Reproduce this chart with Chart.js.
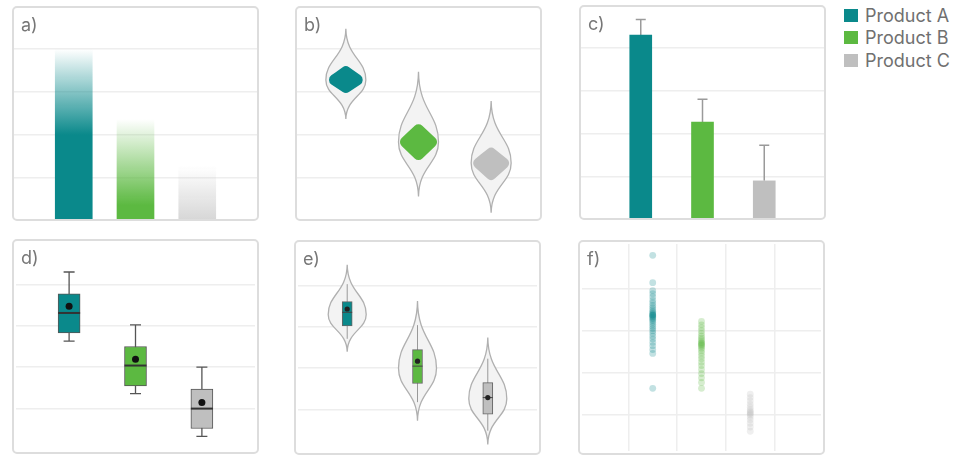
<!DOCTYPE html>
<html>
<head>
<meta charset="utf-8">
<script src="https://cdn.jsdelivr.net/npm/chart.js@4"></script>
<style>
  body { margin: 0; background: #fff; font-family: Inter, "Noto Sans", sans-serif; }
  .panel { position: absolute; width: 247px; height: 215px; }
  .panel canvas { position: absolute; left: 0; top: 0; }
  .panel .frame { position: absolute; inset: 0; border: 2px solid #dddddd; border-radius: 5px; pointer-events: none; }
  .panel .tag { position: absolute; left: 9px; top: 10px; font-size: 18px; line-height: 18px; color: #777; }
  #legend { position: absolute; left: 844px; top: 4px; }
  #legend .item { height: 22.5px; display: flex; align-items: center; font-size: 18px; color: #707070; }
  #legend .swatch { width: 14px; height: 13px; margin-right: 7px; }
</style>
</head>
<body>
<div class="panel" style="left:12px;top:6px"><canvas id="pa" width="247" height="215"></canvas><div class="frame"></div><span class="tag">a)</span></div>
<div class="panel" style="left:295px;top:6px"><canvas id="pb" width="247" height="215"></canvas><div class="frame"></div><span class="tag">b)</span></div>
<div class="panel" style="left:579px;top:5px"><canvas id="pc" width="247" height="215"></canvas><div class="frame"></div><span class="tag">c)</span></div>
<div class="panel" style="left:12px;top:239px"><canvas id="pd" width="247" height="215"></canvas><div class="frame"></div><span class="tag">d)</span></div>
<div class="panel" style="left:294px;top:240px"><canvas id="pe" width="247" height="215"></canvas><div class="frame"></div><span class="tag">e)</span></div>
<div class="panel" style="left:578px;top:240px"><canvas id="pf" width="247" height="215"></canvas><div class="frame"></div><span class="tag">f)</span></div>
<div id="legend"></div>

<script>
const products = ["Product A", "Product B", "Product C"];
const colors = ["#0a898b", "#5cb941", "#bfbfbf"];
const xPos = [0, 1, 2];
const gridValues = [1, 2, 3, 4];

// a) bar heights
const barTotals = [4.0, 2.37, 1.28];

// b) violins with coloured core
const violinTopB = [4.47, 3.47, 2.79];
const violinPeakB = [3.28, 1.84, 1.35];
const violinBottomB = [2.37, 0.57, 0.19];
const coreTopB = [3.63, 2.30, 1.74];
const coreBottomB = [2.95, 1.37, 0.91];

// c) means with error
const means = [4.3, 2.28, 0.91];
const errors = [0.36, 0.53, 0.83];

// d) box plots
const whiskerLowD = [2.63, 1.36, 0.33];
const q1D = [2.83, 1.55, 0.52];
const medianD = [3.31, 2.04, 1.0];
const q3D = [3.77, 2.5, 1.47];
const whiskerHighD = [4.3, 3.02, 2.0];
const meanD = [3.47, 2.19, 1.15];

// e) violin + box
const violinTopE = [4.5, 3.62, 2.74];
const violinPeakE = [3.3, 2.0, 1.26];
const violinBottomE = [2.4, 0.73, 0.16];
const whiskerLowE = [2.71, 1.18, 0.49];
const q1E = [3.02, 1.63, 0.89];
const medianE = [3.35, 2.05, 1.29];
const q3E = [3.61, 2.45, 1.65];
const whiskerHighE = [4.03, 3.04, 2.23];
const meanE = [3.43, 2.17, 1.29];

// f) raw observations
const xPosF = [1.5, 2.5, 3.5];
const obsA = [4.79, 4.14, 3.95, 3.88, 3.8, 3.72, 3.66, 3.6, 3.55, 3.5, 3.46, 3.43, 3.4, 3.38, 3.37, 3.36,
  3.34, 3.32, 3.3, 3.27, 3.24, 3.2, 3.15, 3.1, 3.05, 3.0, 2.94, 2.87, 2.8, 2.72, 2.64, 2.55, 2.46, 1.63];
const obsB = [3.22, 3.14, 3.07, 3.0, 2.93, 2.87, 2.82, 2.78, 2.74, 2.71, 2.69, 2.67, 2.65, 2.62, 2.58,
  2.53, 2.47, 2.4, 2.33, 2.25, 2.17, 2.08, 1.98, 1.88, 1.77, 1.63];
const obsC = [1.49, 1.41, 1.33, 1.25, 1.18, 1.12, 1.08, 1.05, 1.03, 1.0, 0.95, 0.88, 0.8, 0.71, 0.61];

function rgba(hex, a) {
  const n = parseInt(hex.slice(1), 16);
  return `rgba(${n >> 16},${(n >> 8) & 255},${n & 255},${a})`;
}

// legend
const legend = document.getElementById("legend");
products.forEach((p, i) => {
  legend.innerHTML += `<div class="item"><span class="swatch" style="background:${colors[i]}"></span>${p}</div>`;
});

function axis(min, max, showGrid, isX) {
  return {
    type: "linear", min: min, max: max, offset: false,
    ticks: { display: false },
    border: { display: false },
    grid: { display: showGrid, color: "#eeeeee", lineWidth: 1.5, drawTicks: false },
    afterBuildTicks: s => { s.ticks = gridValues.map(v => ({ value: v })); },
    afterFit: s => { if (isX) s.height = 0; else s.width = 0; }
  };
}

function baseOptions(xMin, xMax, yMin, yMax, xGrid) {
  return {
    responsive: false,
    animation: false,
    events: [],
    layout: { padding: 0 },
    plugins: { legend: { display: false }, tooltip: { enabled: false } },
    scales: { x: axis(xMin, xMax, xGrid, true), y: axis(yMin, yMax, true, false) }
  };
}

// long thin tails, round body
function violinPath(ctx, cx, yTop, yPeak, yBot, hw) {
  const up = yPeak - yTop, dn = yBot - yPeak;
  ctx.beginPath();
  ctx.moveTo(cx, yTop);
  ctx.bezierCurveTo(cx + 0.5, yTop + up * 0.55, cx + hw, yPeak - up * 0.4, cx + hw, yPeak);
  ctx.bezierCurveTo(cx + hw, yPeak + dn * 0.4, cx + 0.5, yBot - dn * 0.55, cx, yBot);
  ctx.bezierCurveTo(cx - 0.5, yBot - dn * 0.55, cx - hw, yPeak + dn * 0.4, cx - hw, yPeak);
  ctx.bezierCurveTo(cx - hw, yPeak - up * 0.4, cx - 0.5, yTop + up * 0.55, cx, yTop);
  ctx.closePath();
}

function drawViolin(ctx, cx, yTop, yPeak, yBot, hw) {
  violinPath(ctx, cx, yTop, yPeak, yBot, hw);
  ctx.fillStyle = "#f3f3f3";
  ctx.fill();
  ctx.strokeStyle = "#b0b0b0";
  ctx.lineWidth = 1.3;
  ctx.stroke();
}

function diamondPath(ctx, cx, yTop, yMid, yBot, hw, r) {
  const pts = [[cx, yTop], [cx + hw, yMid], [cx, yBot], [cx - hw, yMid]];
  ctx.beginPath();
  ctx.moveTo((pts[3][0] + pts[0][0]) / 2, (pts[3][1] + pts[0][1]) / 2);
  for (let i = 0; i < 4; i++) {
    const p = pts[i], n = pts[(i + 1) % 4];
    ctx.arcTo(p[0], p[1], n[0], n[1], r);
  }
  ctx.closePath();
}

// a) fading bars
new Chart(document.getElementById("pa"), {
  type: "bar",
  data: {
    datasets: [{
      data: xPos.map((x, i) => ({ x: x, y: barTotals[i] })),
      barThickness: 37,
      backgroundColor: c => {
        const { ctx, scales } = c.chart;
        const i = c.dataIndex;
        if (!scales.y || i === undefined) return colors[0];
        const top = scales.y.getPixelForValue(barTotals[i]);
        const solid = scales.y.getPixelForValue(barTotals[i] - 2);
        if (!isFinite(top) || !isFinite(solid) || top === solid) return colors[i];
        const g = ctx.createLinearGradient(0, top, 0, solid);
        g.addColorStop(0, rgba(colors[i], 0));
        g.addColorStop(1, rgba(colors[i], 1));
        return g;
      }
    }]
  },
  options: baseOptions(-1, 3, 0, 5, false)
});

// b) violins with coloured core
new Chart(document.getElementById("pb"), {
  type: "scatter",
  data: { datasets: [{ data: [] }] },
  options: baseOptions(-0.7, 2.7, 0, 5, false),
  plugins: [{
    id: "violinsB",
    afterDatasetsDraw(chart) {
      const { ctx, scales: { x, y } } = chart;
      ctx.save();
      xPos.forEach((v, i) => {
        const cx = x.getPixelForValue(v);
        drawViolin(ctx, cx, y.getPixelForValue(violinTopB[i]), y.getPixelForValue(violinPeakB[i]),
          y.getPixelForValue(violinBottomB[i]), 20);
        diamondPath(ctx, cx, y.getPixelForValue(coreTopB[i]), y.getPixelForValue(violinPeakB[i]),
          y.getPixelForValue(coreBottomB[i]), 21, 5.5);
        ctx.fillStyle = colors[i];
        ctx.fill();
      });
      ctx.restore();
    }
  }]
});

// c) bars with error bars
new Chart(document.getElementById("pc"), {
  type: "bar",
  data: {
    datasets: [{
      data: xPos.map((x, i) => ({ x: x, y: means[i] })),
      barThickness: 22,
      backgroundColor: colors
    }]
  },
  options: baseOptions(-1, 3, 0, 5, false),
  plugins: [{
    id: "errorBars",
    beforeDatasetsDraw(chart) {
      const { ctx, scales: { x, y } } = chart;
      ctx.save();
      ctx.strokeStyle = "#9a9a9a";
      ctx.lineWidth = 1.5;
      xPos.forEach((v, i) => {
        const cx = x.getPixelForValue(v);
        const lo = y.getPixelForValue(means[i]);
        const hi = y.getPixelForValue(means[i] + errors[i]);
        ctx.beginPath();
        ctx.moveTo(cx, lo);
        ctx.lineTo(cx, hi);
        ctx.moveTo(cx - 5, hi);
        ctx.lineTo(cx + 5, hi);
        ctx.stroke();
      });
      ctx.restore();
    }
  }]
});

// d) box plots
new Chart(document.getElementById("pd"), {
  type: "bar",
  data: {
    datasets: [
      {
        type: "scatter",
        data: xPos.map((x, i) => ({ x: x, y: meanD[i] })),
        pointRadius: 3.5, backgroundColor: "#111", borderWidth: 0
      },
      {
        data: xPos.map((x, i) => ({ x: x, y: [q1D[i], q3D[i]] })),
        barThickness: 22,
        backgroundColor: colors,
        borderColor: "#555",
        borderWidth: 1,
        borderSkipped: false
      }
    ]
  },
  options: baseOptions(-0.8, 2.8, 0, 5, false),
  plugins: [{
    id: "boxParts",
    beforeDatasetsDraw(chart) {
      const { ctx, scales: { x, y } } = chart;
      ctx.save();
      ctx.strokeStyle = "#555";
      ctx.lineWidth = 1.3;
      xPos.forEach((v, i) => {
        const cx = x.getPixelForValue(v);
        const lo = y.getPixelForValue(whiskerLowD[i]);
        const hi = y.getPixelForValue(whiskerHighD[i]);
        ctx.beginPath();
        ctx.moveTo(cx, lo); ctx.lineTo(cx, hi);
        ctx.moveTo(cx - 5.5, lo); ctx.lineTo(cx + 5.5, lo);
        ctx.moveTo(cx - 5.5, hi); ctx.lineTo(cx + 5.5, hi);
        ctx.stroke();
      });
      ctx.restore();
    },
    afterDatasetDraw(chart, args) {
      if (args.index !== 1) return;
      const { ctx, scales: { x, y } } = chart;
      ctx.save();
      ctx.strokeStyle = "#333";
      ctx.lineWidth = 2;
      xPos.forEach((v, i) => {
        const cx = x.getPixelForValue(v);
        const m = y.getPixelForValue(medianD[i]);
        ctx.beginPath();
        ctx.moveTo(cx - 11, m); ctx.lineTo(cx + 11, m);
        ctx.stroke();
      });
      ctx.restore();
    }
  }]
});

// e) violins with inner boxes
new Chart(document.getElementById("pe"), {
  type: "bar",
  data: {
    datasets: [
      {
        type: "scatter",
        data: xPos.map((x, i) => ({ x: x, y: meanE[i] })),
        pointRadius: 2.6, backgroundColor: "#222", borderWidth: 0
      },
      {
        data: xPos.map((x, i) => ({ x: x, y: [q1E[i], q3E[i]] })),
        barThickness: 10,
        backgroundColor: colors,
        borderColor: "#666",
        borderWidth: 1,
        borderSkipped: false
      }
    ]
  },
  options: baseOptions(-0.7, 2.7, 0, 5, false),
  plugins: [{
    id: "violinsE",
    beforeDatasetsDraw(chart) {
      const { ctx, scales: { x, y } } = chart;
      ctx.save();
      xPos.forEach((v, i) => {
        const cx = x.getPixelForValue(v);
        drawViolin(ctx, cx, y.getPixelForValue(violinTopE[i]), y.getPixelForValue(violinPeakE[i]),
          y.getPixelForValue(violinBottomE[i]), 19);
        ctx.strokeStyle = "#999";
        ctx.lineWidth = 1;
        ctx.beginPath();
        ctx.moveTo(cx, y.getPixelForValue(whiskerLowE[i]));
        ctx.lineTo(cx, y.getPixelForValue(whiskerHighE[i]));
        ctx.stroke();
      });
      ctx.restore();
    },
    afterDatasetDraw(chart, args) {
      if (args.index !== 1) return;
      const { ctx, scales: { x, y } } = chart;
      ctx.save();
      ctx.strokeStyle = "#444";
      ctx.lineWidth = 1;
      xPos.forEach((v, i) => {
        const cx = x.getPixelForValue(v);
        const m = y.getPixelForValue(medianE[i]);
        ctx.beginPath();
        ctx.moveTo(cx - 5, m); ctx.lineTo(cx + 5, m);
        ctx.stroke();
      });
      ctx.restore();
    }
  }]
});

// f) strip plot
new Chart(document.getElementById("pf"), {
  type: "scatter",
  data: {
    datasets: [obsA, obsB, obsC].map((obs, i) => ({
      data: obs.map(v => ({ x: xPosF[i], y: v })),
      pointRadius: 3.4,
      borderWidth: 0,
      backgroundColor: rgba(colors[i], 0.25)
    }))
  },
  options: baseOptions(0.05, 4.95, 0.14, 5.06, true)
});
</script>
</body>
</html>
